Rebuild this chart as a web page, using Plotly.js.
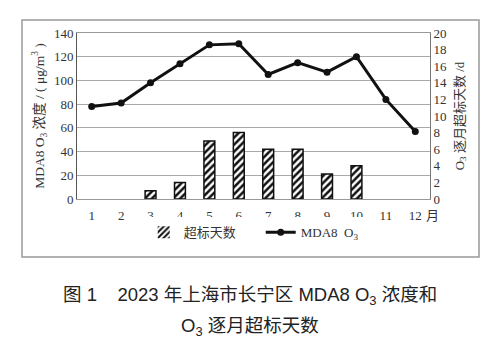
<!DOCTYPE html>
<html>
<head>
<meta charset="utf-8">
<script src="https://cdn.plot.ly/plotly-3.0.1.min.js"></script>
<style>html,body{margin:0;padding:0;background:#fff;}#chart{width:500px;height:354px;}</style>
</head>
<body>
<div id="chart"></div>
<script>
const months = ["1","2","3","4","5","6","7","8","9","10","11","12"];
const exceedDays = [0, 0, 1, 2, 7, 8, 6, 6, 3, 4, 0, 0];
const mda8 = [78, 81, 98, 114, 130, 131, 105, 115, 107, 120, 84, 57];

const serif = "Liberation Serif, Noto Sans CJK SC, serif";
const capFont = "Liberation Sans, Noto Sans CJK SC, sans-serif";
const traces = [
  {
    type: "bar", x: months, y: exceedDays, name: "超标天数", yaxis: "y2",
    width: 0.37,
    marker: {color: "#fff", line: {color: "#111", width: exceedDays.map(v => v > 0 ? 1.5 : 0)},
             pattern: {shape: "/", fgcolor: "#111", bgcolor: "#fff", size: 5, solidity: 0.5}}
  },
  {
    type: "scatter", mode: "lines+markers", x: months, y: mda8, name: "MDA8  O<sub>3</sub>",
    line: {color: "#111", width: 3}, marker: {color: "#111", size: 7, symbol: "circle"}
  }
];

const layout = {
  width: 500, height: 354,
  margin: {l: 77, r: 70, t: 33, b: 155},
  paper_bgcolor: "#fff", plot_bgcolor: "#fff",
  showlegend: true,
  legend: {orientation: "h", x: 0.189, y: -0.2, xanchor: "left", yanchor: "middle",
           entrywidth: 72,
           font: {family: serif, size: 13, color: "#333"}, traceorder: "normal"},
  xaxis: {type: "category", range: [-0.5, 11.5], showgrid: false, ticks: "",
          showline: true, linecolor: "#999", linewidth: 1, mirror: true, ticklabelstandoff: 4,
          tickfont: {family: serif, size: 13, color: "#333"}},
  yaxis: {range: [0, 140], dtick: 20, showgrid: true, gridcolor: "#aaa", gridwidth: 1,
          showline: true, linecolor: "#555", linewidth: 1, zeroline: false, ticks: "",
          tickfont: {family: serif, size: 13, color: "#333"},
          title: {text: "MDA8 O<sub>3</sub> 浓度 / ( μg/m<sup>3</sup> )", standoff: 6,
                  font: {family: serif, size: 13.5, color: "#333"}}},
  yaxis2: {range: [0, 20], dtick: 2, overlaying: "y", side: "right", showgrid: false,
           showline: true, linecolor: "#777", linewidth: 1, zeroline: false, ticks: "",
           tickfont: {family: serif, size: 13, color: "#333"},
           title: {text: "O<sub>3</sub> 逐月超标天数 /d", standoff: 8,
                   font: {family: serif, size: 13, color: "#333"}}},
  shapes: [
    {type: "rect", xref: "paper", yref: "paper", x0: -0.1558, x1: 1.1388, y0: -0.3494, y1: 1.0783,
     line: {color: "#999", width: 1.5}, fillcolor: "rgba(0,0,0,0)"}
  ],
  annotations: [
    {text: "月", xref: "paper", yref: "paper", x: 1.008, y: -0.097, xanchor: "center", yanchor: "middle",
     showarrow: false, font: {family: serif, size: 13, color: "#333"}},
    {text: "图 1    2023 年上海市长宁区 MDA8 O<sub>3</sub> 浓度和", xref: "paper", yref: "paper",
     x: 0.49, y: -0.585, xanchor: "center", yanchor: "middle", showarrow: false,
     font: {family: capFont, size: 18.5, color: "#222"}},
    {text: "O<sub>3</sub> 逐月超标天数", xref: "paper", yref: "paper",
     x: 0.49, y: -0.77, xanchor: "center", yanchor: "middle", showarrow: false,
     font: {family: capFont, size: 18.5, color: "#222"}}
  ]
};
Plotly.newPlot("chart", traces, layout, {displayModeBar: false, staticPlot: true});
</script>
</body>
</html>
